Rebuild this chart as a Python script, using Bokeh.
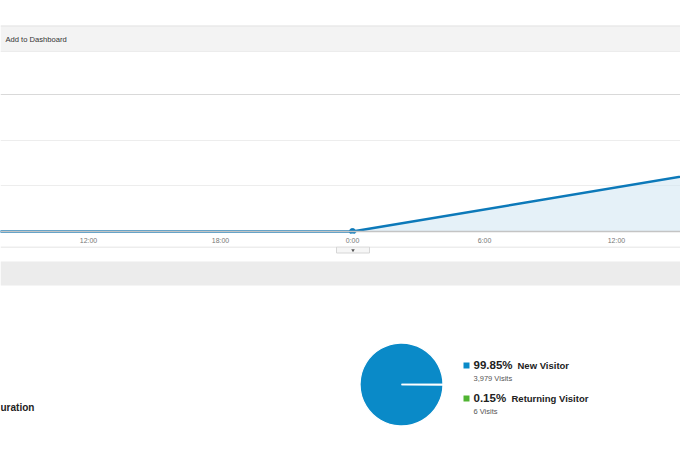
from bokeh.plotting import figure
from bokeh.layouts import column
from bokeh.models import Range1d, FixedTicker, Grid, Span
from bokeh.core.properties import value
from bokeh.embed import file_html
from bokeh.resources import INLINE
import math

# ---- data -----------------------------------------------------------------
# Daily visits, x in hours relative to the midnight shown as "0:00"
visit_hours = [-24, 0, 24]
visit_counts = [0, 0, 1930]

hour_ticks = [-12, -6, 0, 6, 12]
hour_labels = ["12:00", "18:00", "0:00", "6:00", "12:00"]

grid_values = [1000, 2000]
top_grid_value = [3000]

visitor_types = ["New Visitor", "Returning Visitor"]
visitor_visits = [3979, 6]
visitor_colors = ["#0a8ac8", "#50b432"]

# ---- styling --------------------------------------------------------------
FONT = "Liberation Sans"
LINE_BLUE = "#0c79b9"
W = 680


def panel(height, y_top, y_bottom):
    """A blank canvas whose y coordinates run downwards in pixels."""
    p = figure(width=W, height=height,
               x_range=Range1d(0, W), y_range=Range1d(y_bottom, y_top),
               x_axis_type=None, y_axis_type=None,
               output_backend="svg", toolbar_location=None, min_border=0)
    p.outline_line_color = None
    p.background_fill_color = "white"
    p.border_fill_color = "white"
    return p


# ---- toolbar strip ----------------------------------------------------------
top = panel(52, 0, 52)
top.quad(left=0, right=W, top=25, bottom=52, fill_color="#f3f3f3", line_color=None)
top.segment(x0=[0, 0], y0=[25.5, 51.5], x1=[W, W], y1=[25.5, 51.5],
            line_color="#e4e4e4", line_width=1)
top.text(x=[5], y=[39], text=["Add to Dashboard"], text_font=value(FONT),
         text_font_size="7.6px", text_color="#333333", text_baseline="middle")

# ---- visits over time -------------------------------------------------------
chart = figure(width=W, height=194,
               x_range=Range1d(-16, 14.91), y_range=Range1d(-43.5, 3913),
               y_axis_type=None, output_backend="svg", toolbar_location=None,
               min_border=0, min_border_bottom=12)
chart.outline_line_color = None
chart.xgrid.visible = False

chart.add_layout(Grid(dimension=1, ticker=FixedTicker(ticks=grid_values),
                      grid_line_color="#ededed", grid_line_width=1))
chart.add_layout(Grid(dimension=1, ticker=FixedTicker(ticks=top_grid_value),
                      grid_line_color="#d9d9d9", grid_line_width=1))

chart.varea(x=visit_hours, y1=[0] * len(visit_hours), y2=visit_counts,
            fill_color="#cfe6f3", fill_alpha=0.55)
chart.add_layout(Span(location=0, dimension="width", line_color="#c4c4c4",
                      line_width=1.5))
chart.line(visit_hours, visit_counts, line_color=LINE_BLUE, line_width=2.5)
chart.scatter(visit_hours, visit_counts, size=6, color=LINE_BLUE)

ax = chart.xaxis[0]
ax.ticker = FixedTicker(ticks=hour_ticks)
ax.major_label_overrides = {t: lab for t, lab in zip(hour_ticks, hour_labels)}
ax.axis_line_color = None
ax.major_tick_in = 0
ax.major_tick_out = 0
ax.minor_tick_in = 0
ax.minor_tick_out = 0
ax.major_label_standoff = 3
ax.major_label_text_font = FONT
ax.major_label_text_font_size = "7px"
ax.major_label_text_color = "#777777"

# ---- visitor breakdown -------------------------------------------------------
bottom = panel(228, 246, 474)
bottom.segment(x0=[0], y0=[246.5], x1=[W], y1=[246.5], line_color="#dcdcdc")
bottom.quad(left=336, right=369, top=246.5, bottom=252.5,
            fill_color="#f6f6f6", line_color="#d6d6d6", line_width=1)
bottom.scatter(x=[352.5], y=[249.8], marker="inverted_triangle", size=3.5,
               color="#555555", line_color=None)
bottom.quad(left=0, right=W, top=261, bottom=285, fill_color="#ececec",
            line_color=None)

bottom.text(x=[0], y=[407], text=["uration"], text_font=value(FONT),
            text_font_size="10px", text_font_style="bold", text_color="#222222",
            text_baseline="middle")

total = sum(visitor_visits)
fractions = [v / total for v in visitor_visits]
ends, acc = [], 0.0
for f in fractions:
    acc += f
    ends.append(acc * 2 * math.pi)
starts = [0.0] + ends[:-1]

bottom.wedge(x=401, y=384, radius=41.5, start_angle=starts, end_angle=ends,
             fill_color=visitor_colors, line_color="white", line_width=1.3)

pct_labels = [f"{f * 100:.2f}%" for f in fractions]
visit_labels = [f"{v:,} Visits" for v in visitor_visits]

legend_mid = [365, 398]
label_mid = [364.5, 397.5]
sub_mid = [377.5, 410.5]
name_x = [517, 511]

bottom.scatter(x=[466, 466], y=legend_mid, marker="square", size=6,
               color=visitor_colors, line_color=None)
bottom.text(x=[473, 473], y=label_mid, text=pct_labels, text_font=value(FONT),
            text_font_size="11.5px", text_font_style="bold", text_color="#222222",
            text_baseline="middle")
bottom.text(x=name_x, y=label_mid, text=visitor_types, text_font=value(FONT),
            text_font_size="9.5px", text_font_style="bold", text_color="#222222",
            text_baseline="middle")
bottom.text(x=[473, 473], y=sub_mid, text=visit_labels, text_font=value(FONT),
            text_font_size="7.5px", text_color="#555555", text_baseline="middle")

layout = column(top, chart, bottom, spacing=0)
open("out.html", "w").write(file_html(layout, INLINE))
